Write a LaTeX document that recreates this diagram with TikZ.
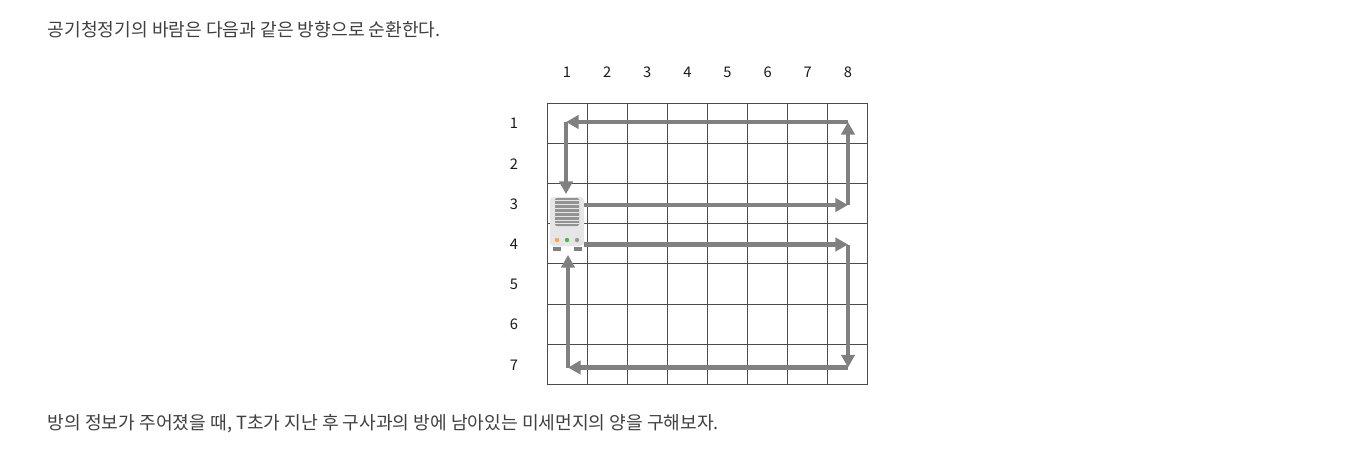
\documentclass[tikz,border=0pt]{standalone}
\usepackage{fontspec}
\setmainfont{Noto Sans CJK KR}
\usetikzlibrary{arrows.meta,positioning}
\definecolor{flow}{HTML}{808080}
\definecolor{bodygray}{HTML}{E6E6E6}
\tikzset{
  gridline/.style={draw=black!70,line width=0.75pt},
  number/.style={inner sep=0pt,font=\fontsize{11pt}{13pt}\selectfont,text=black!90},
  sentence/.style={inner sep=0pt,anchor=west,font=\fontsize{13.62pt}{16pt}\selectfont,text=black!75},
  wind/.style={draw=flow,line width=3.5pt,-{Triangle[length=9.5pt,width=10pt]},shorten >=0pt},
}
\begin{document}
\begin{tikzpicture}[x=0.75pt,y=-0.75pt]
   \useasboundingbox (0,0) rectangle (1366,458);
   \fill[white] (0,0) rectangle (1366,458);
   \node[sentence] (top) at (47.5,29.5) {공기청정기의 바람은 다음과 같은 방향으로 순환한다.};
   \node[sentence] (bottom) at (47.5,423.3) {방의 정보가 주어졌을 때, T초가 지난 후 구사과의 방에 남아있는 미세먼지의 양을 구해보자.};
   % grid
   \foreach \i in {0,...,8}
     \draw[gridline] (547.3+40.08*\i,103) -- (547.3+40.08*\i,384.5);
   \foreach \i in {0,...,7}
     \draw[gridline] (547,103+40.2*\i) -- (868,103+40.2*\i);
   \foreach \i in {1,...,8}
     \node[number] (col_\i) at (526.9+40.125*\i,72) {\i};
   \foreach \i in {1,...,7}
     \node[number] (row_\i) at (514,83.5+40.2*\i) {\i};
   % air cleaner
   \fill[bodygray,rounded corners=3pt] (550,197) rectangle (584,246);
   \fill[flow!85!white,rounded corners=1pt] (555,198) rectangle (579,226);
   \foreach \i in {0,...,6}
     \draw[bodygray,line width=0.7pt] (555,200.5+3.9*\i) -- (579,200.5+3.9*\i);
   \fill[orange!70!white] (557,240) circle (2.2);
   \fill[green!60!black!70!white] (567,240) circle (2.2);
   \fill[flow!80!white] (577,240) circle (2.2);
   \fill[flow] (553,247) rectangle (561,250.5);
   \fill[flow] (574,247) rectangle (582,250.5);
   % wind path
   \coordinate (up_start) at (584,205);
   \coordinate (up_right) at (848,205);
   \coordinate (up_top) at (848,122);
   \coordinate (up_left) at (566,122);
   \coordinate (up_end) at (566,194);
   \coordinate (down_start) at (584,244.5);
   \coordinate (down_right) at (848,244.5);
   \coordinate (down_bottom) at (848,367.5);
   \coordinate (down_left) at (568,367.5);
   \coordinate (down_end) at (568,255);
   \draw[wind] (up_start) -- (up_right);
   \draw[wind] (up_right) -- (up_top);
   \draw[wind] (up_top) -- (up_left);
   \draw[wind] (up_left) -- (up_end);
   \draw[wind] (down_start) -- (down_right);
   \draw[wind] (down_right) -- (down_bottom);
   \draw[wind] (down_bottom) -- (down_left);
   \draw[wind] (down_left) -- (down_end);
\end{tikzpicture}
\end{document}
